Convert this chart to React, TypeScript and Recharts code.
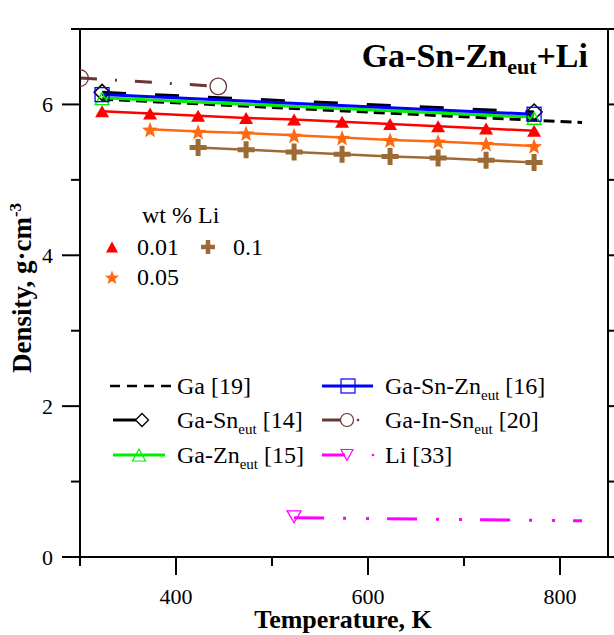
import React from 'react';
import { LineChart, Line, XAxis, YAxis } from 'recharts';

const SERIF = '"Liberation Serif", "Times New Roman", serif';

// reference data (T in K, density in g/cm3)
const gaT = [323, 823];
const gaRho = [6.07, 5.76];
const gaSnT = [323, 773];
const gaSnRho = [6.16, 5.9];
const gaSnZnT = [323, 773];
const gaSnZnRho = [6.13, 5.87];
const gaZnT = [323, 773];
const gaZnRho = [6.09, 5.83];
const gaInSnT = [300, 444];
const gaInSnRho = [6.35, 6.24];
const liT = [523, 823];
const liRho = [0.52, 0.48];

// Ga-Sn-Zn eut + Li alloys
const li001T = [323, 373, 423, 473, 523, 573, 623, 673, 723, 773];
const li001Rho = [5.91, 5.88, 5.85, 5.82, 5.8, 5.77, 5.74, 5.71, 5.68, 5.65];
const li005T = [373, 423, 473, 523, 573, 623, 673, 723, 773];
const li005Rho = [5.67, 5.64, 5.62, 5.59, 5.56, 5.53, 5.51, 5.48, 5.45];
const li01T = [423, 473, 523, 573, 623, 673, 723, 773];
const li01Rho = [5.43, 5.4, 5.37, 5.34, 5.31, 5.29, 5.26, 5.23];

const xTicks = [300, 400, 500, 600, 700, 800];
const xMajor = [400, 600, 800];
const yTicks = [0, 1, 2, 3, 4, 5, 6, 7];
const yMajor = [0, 2, 4, 6];

const pts = (t: number[], r: number[]) => t.map((T, i) => ({ T, rho: r[i] }));

const RED = '#ff0000';
const ORANGE = '#ff6a10';
const BROWN = '#9c6a34';
const DARKBROWN = '#6b3636';
const BLUE = '#0000ff';
const GREEN = '#00ee00';
const MAGENTA = '#ff00ff';

// marker shapes
const triUp = (cx: number, cy: number, w: number, h: number) =>
  `M${cx},${cy - h / 2}L${cx + w / 2},${cy + h / 2}L${cx - w / 2},${cy + h / 2}Z`;
const triDown = (cx: number, cy: number, w: number, h: number) =>
  `M${cx},${cy + h / 2}L${cx + w / 2},${cy - h / 2}L${cx - w / 2},${cy - h / 2}Z`;
const star = (cx: number, cy: number, R: number) => {
  const r = R * 0.42;
  let d = '';
  for (let i = 0; i < 10; i++) {
    const a = (Math.PI / 5) * i - Math.PI / 2;
    const rr = i % 2 === 0 ? R : r;
    d += (i === 0 ? 'M' : 'L') + (cx + rr * Math.cos(a)).toFixed(2) + ',' + (cy + rr * Math.sin(a)).toFixed(2);
  }
  return d + 'Z';
};
const plus = (cx: number, cy: number, s: number, t: number) =>
  `M${cx - t / 2},${cy - s / 2}h${t}v${s / 2 - t / 2}h${s / 2 - t / 2}v${t}h${-(s / 2 - t / 2)}v${s / 2 - t / 2}h${-t}v${-(s / 2 - t / 2)}h${-(s / 2 - t / 2)}v${-t}h${s / 2 - t / 2}Z`;
const diamond = (cx: number, cy: number, r: number) =>
  `M${cx},${cy - r}L${cx + r},${cy}L${cx},${cy + r}L${cx - r},${cy}Z`;

const RedDot = (p: any) => <path key={p.key} d={triUp(p.cx, p.cy, 14, 12)} fill={RED} />;
const StarDot = (p: any) => <path key={p.key} d={star(p.cx, p.cy + 1, 8.5)} fill={ORANGE} />;
const PlusDot = (p: any) => <path key={p.key} d={plus(p.cx, p.cy, 17, 5)} fill={BROWN} />;
const DiamondDot = (p: any) => (
  <path key={p.key} d={diamond(p.cx, p.cy, 8)} fill="none" stroke="#000" strokeWidth={1.5} />
);
const SquareDot = (p: any) => (
  <rect key={p.key} x={p.cx - 7} y={p.cy - 7} width={14} height={14} fill="none" stroke={BLUE} strokeWidth={1.3} />
);
const GreenTri = (p: any) => (
  <path key={p.key} d={triUp(p.cx, p.cy + 1, 14, 12)} fill="none" stroke={GREEN} strokeWidth={1.3} />
);
const CircleDot = (p: any) => (
  <circle key={p.key} cx={p.cx} cy={p.cy} r={8.3} fill="none" stroke={DARKBROWN} strokeWidth={1.3} />
);
const LiDot = (p: any) =>
  p.index === 0 ? (
    <path key={p.key} d={triDown(p.cx, p.cy - 1, 14, 12)} fill="none" stroke={MAGENTA} strokeWidth={1.3} />
  ) : (
    <g key={p.key} />
  );

function BottomTick(props: any) {
  const { x, y, payload } = props;
  const major = xMajor.includes(payload.value);
  return (
    <g>
      <line x1={x} x2={x} y1={y} y2={y + (major ? 18 : 9)} stroke="#000" strokeWidth={2} />
      {major && (
        <text x={x} y={y + 47} textAnchor="middle" fontSize={22} fontFamily={SERIF} fill="#000">
          {payload.value}
        </text>
      )}
    </g>
  );
}

function TopTick(props: any) {
  const { x, y, payload } = props;
  const major = xMajor.includes(payload.value);
  return <line x1={x} x2={x} y1={y} y2={y - (major ? 19 : 10)} stroke="#000" strokeWidth={2} />;
}

function LeftTick(props: any) {
  const { x, y, payload } = props;
  const major = yMajor.includes(payload.value);
  return (
    <g>
      <line x1={x} x2={x - (major ? 18 : 9)} y1={y} y2={y} stroke="#000" strokeWidth={2} />
      {major && (
        <text x={x - 27} y={y + 8} textAnchor="end" fontSize={22} fontFamily={SERIF} fill="#000">
          {payload.value}
        </text>
      )}
    </g>
  );
}

function RightTick(props: any) {
  const { x, y, payload } = props;
  const major = yMajor.includes(payload.value);
  return <line x1={x} x2={x + (major ? 18 : 9)} y1={y} y2={y} stroke="#000" strokeWidth={2} />;
}

const axisLine = { stroke: '#000', strokeWidth: 2 };

function Overlay() {
  const txt = { fontFamily: SERIF, fontSize: 24, fill: '#000' };
  return (
    <svg width={614} height={635} style={{ position: 'absolute', left: 0, top: 0, pointerEvents: 'none' }}>
      {/* title */}
      <text x={588} y={67} textAnchor="end" fontFamily={SERIF} fontSize={34} fontWeight="bold">
        Ga-Sn-Zn
        <tspan fontSize={22} dy={7}>eut</tspan>
        <tspan fontSize={34} dy={-7}>+Li</tspan>
      </text>

      {/* wt % Li legend */}
      <text x={142} y={223} {...txt}>wt % Li</text>
      <path d={triUp(112, 247, 12, 11)} fill={RED} />
      <text x={137} y={255} {...txt}>0.01</text>
      <path d={plus(208, 247, 14, 4.5)} fill={BROWN} />
      <text x={233} y={255} {...txt}>0.1</text>
      <path d={star(112, 278, 7.5)} fill={ORANGE} />
      <text x={137} y={285} {...txt}>0.05</text>

      {/* reference legend */}
      <line x1={110} x2={172} y1={386} y2={386} stroke="#000" strokeWidth={2.5} strokeDasharray="10 7" />
      <text x={177} y={394} {...txt}>Ga [19]</text>
      <line x1={113} x2={136} y1={420} y2={420} stroke="#000" strokeWidth={3} />
      <path d={diamond(142, 420, 6.5)} fill="#fff" stroke="#000" strokeWidth={1.3} />
      <text x={177} y={428} {...txt}>
        Ga-Sn<tspan fontSize={15} dy={6}>eut</tspan>
        <tspan dy={-6}> [14]</tspan>
      </text>
      <line x1={113} x2={165} y1={455} y2={455} stroke={GREEN} strokeWidth={3} />
      <path d={triUp(139, 455, 13, 12)} fill="none" stroke={GREEN} strokeWidth={1.2} />
      <text x={177} y={463} {...txt}>
        Ga-Zn<tspan fontSize={15} dy={6}>eut</tspan>
        <tspan dy={-6}> [15]</tspan>
      </text>

      <line x1={322} x2={373} y1={386} y2={386} stroke={BLUE} strokeWidth={3} />
      <rect x={341} y={379} width={14} height={14} fill="none" stroke={BLUE} strokeWidth={1.2} />
      <text x={385} y={394} {...txt}>
        Ga-Sn-Zn<tspan fontSize={15} dy={6}>eut</tspan>
        <tspan dy={-6}> [16]</tspan>
      </text>
      <line x1={322} x2={341} y1={420} y2={420} stroke={DARKBROWN} strokeWidth={3} />
      <circle cx={347} cy={420} r={6.5} fill="none" stroke={DARKBROWN} strokeWidth={1.2} />
      <circle cx={358} cy={420} r={1.3} fill={DARKBROWN} />
      <text x={385} y={428} {...txt}>
        Ga-In-Sn<tspan fontSize={15} dy={6}>eut</tspan>
        <tspan dy={-6}> [20]</tspan>
      </text>
      <line x1={322} x2={345} y1={455} y2={455} stroke={MAGENTA} strokeWidth={3} />
      <path d={triDown(347, 455, 12, 11)} fill="none" stroke={MAGENTA} strokeWidth={1.2} />
      <circle cx={373} cy={455} r={1.3} fill={MAGENTA} />
      <text x={385} y={463} {...txt}>Li [33]</text>

      {/* axis titles */}
      <text x={343} y={628} textAnchor="middle" fontFamily={SERIF} fontSize={26} fontWeight="bold">
        Temperature, K
      </text>
      <text
        x={31}
        y={288}
        textAnchor="middle"
        fontFamily={SERIF}
        fontSize={27}
        fontWeight="bold"
        transform="rotate(-90 31 288)"
      >
        Density, g·cm<tspan fontSize={17} dy={-10}>-3</tspan>
      </text>
    </svg>
  );
}

export default function App() {
  return (
    <div style={{ position: 'absolute', left: 0, top: 0, width: 614, height: 635, background: '#fff', fontFamily: SERIF }}>
      <LineChart width={614} height={635} margin={{ top: 28, right: 5, bottom: 77, left: 79 }}>
        <XAxis
          xAxisId="b"
          dataKey="T"
          type="number"
          domain={[300, 850]}
          ticks={xTicks}
          interval={0}
          height={1}
          tickSize={0}
          tickMargin={0}
          axisLine={axisLine}
          tickLine={false}
          tick={<BottomTick />}
          allowDataOverflow
        />
        <XAxis
          xAxisId="t"
          orientation="top"
          type="number"
          domain={[300, 850]}
          ticks={xTicks}
          interval={0}
          height={1}
          tickSize={0}
          tickMargin={0}
          axisLine={axisLine}
          tickLine={false}
          tick={<TopTick />}
          allowDataOverflow
        />
        <YAxis
          yAxisId="l"
          type="number"
          domain={[0, 7]}
          ticks={yTicks}
          interval={0}
          width={1}
          tickSize={0}
          tickMargin={0}
          axisLine={axisLine}
          tickLine={false}
          tick={<LeftTick />}
          allowDataOverflow
        />
        <YAxis
          yAxisId="r"
          orientation="right"
          type="number"
          domain={[0, 7]}
          ticks={yTicks}
          interval={0}
          width={1}
          tickSize={0}
          tickMargin={0}
          axisLine={axisLine}
          tickLine={false}
          tick={<RightTick />}
          allowDataOverflow
        />

        <Line xAxisId="b" yAxisId="l" data={pts(gaInSnT, gaInSnRho)} dataKey="rho" stroke={DARKBROWN} strokeWidth={3}
          strokeDasharray="17 18 2 18" dot={CircleDot} activeDot={false} isAnimationActive={false} />
        <Line xAxisId="b" yAxisId="l" data={pts(liT, liRho)} dataKey="rho" stroke={MAGENTA} strokeWidth={3}
          strokeDasharray="30 19 3 20 3 18" dot={LiDot} activeDot={false} isAnimationActive={false} />
        <Line xAxisId="b" yAxisId="l" data={pts(gaSnT, gaSnRho)} dataKey="rho" stroke="#000" strokeWidth={3}
          strokeDasharray="24 29" dot={DiamondDot} activeDot={false} isAnimationActive={false} />
        <Line xAxisId="b" yAxisId="l" data={pts(gaT, gaRho)} dataKey="rho" stroke="#000" strokeWidth={3}
          strokeDasharray="11 6" dot={false} activeDot={false} isAnimationActive={false} />
        <Line xAxisId="b" yAxisId="l" data={pts(gaZnT, gaZnRho)} dataKey="rho" stroke={GREEN} strokeWidth={3}
          dot={GreenTri} activeDot={false} isAnimationActive={false} />
        <Line xAxisId="b" yAxisId="l" data={pts(gaSnZnT, gaSnZnRho)} dataKey="rho" stroke={BLUE} strokeWidth={3}
          dot={SquareDot} activeDot={false} isAnimationActive={false} />

        <Line xAxisId="b" yAxisId="l" data={pts(li001T, li001Rho)} dataKey="rho" stroke={RED} strokeWidth={2.5}
          dot={RedDot} activeDot={false} isAnimationActive={false} />
        <Line xAxisId="b" yAxisId="l" data={pts(li005T, li005Rho)} dataKey="rho" stroke={ORANGE} strokeWidth={2.5}
          dot={StarDot} activeDot={false} isAnimationActive={false} />
        <Line xAxisId="b" yAxisId="l" data={pts(li01T, li01Rho)} dataKey="rho" stroke={BROWN} strokeWidth={2.5}
          dot={PlusDot} activeDot={false} isAnimationActive={false} />
      </LineChart>
      <Overlay />
    </div>
  );
}
